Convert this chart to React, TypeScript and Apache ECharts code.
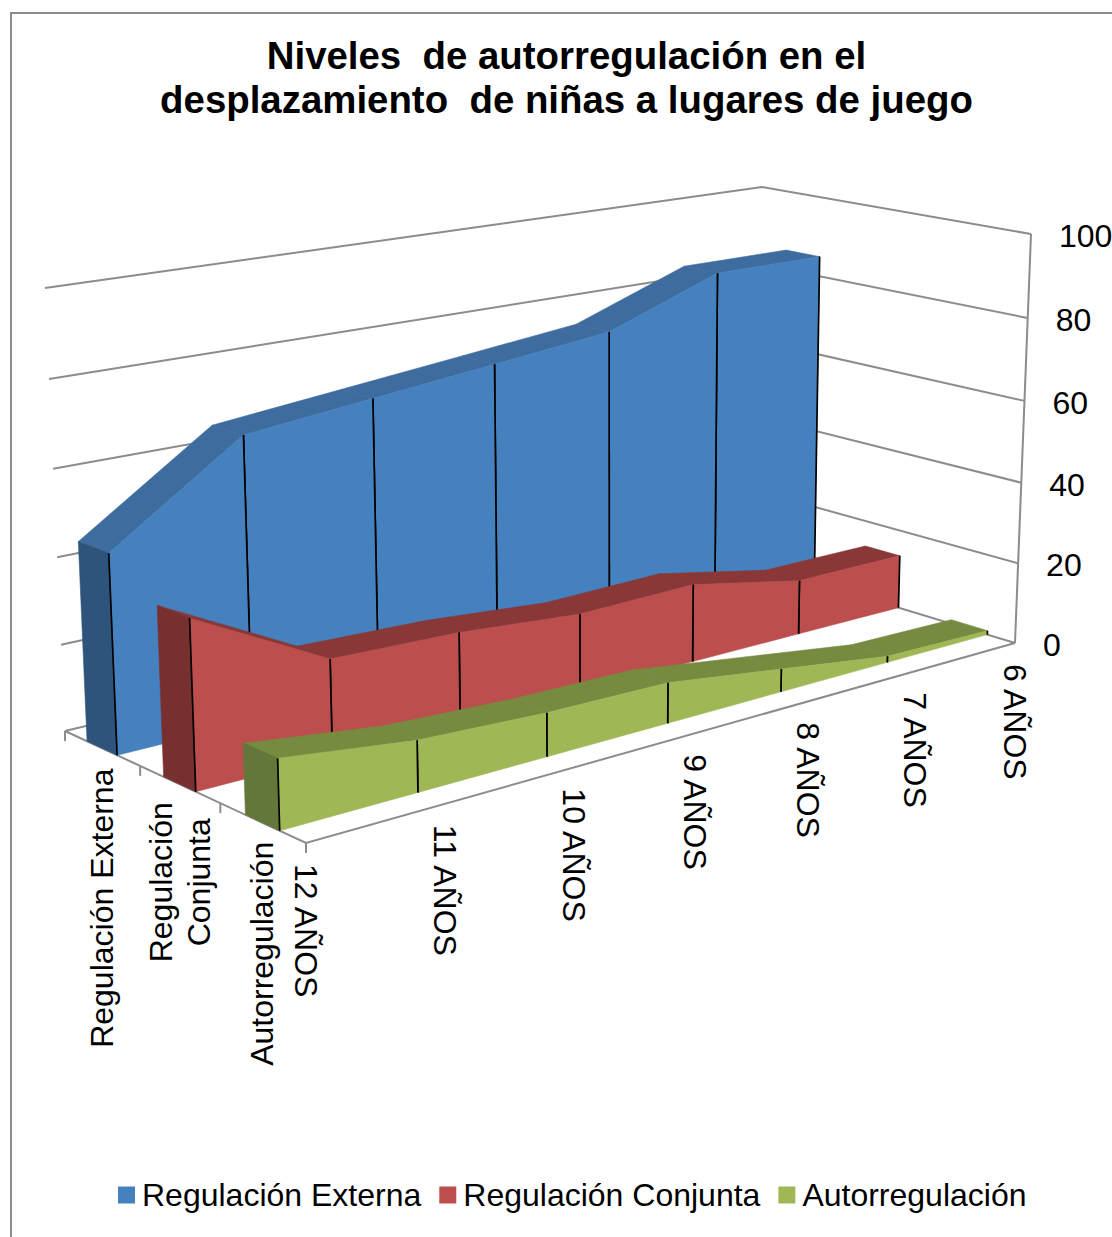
import React, { useEffect, useRef } from "react";
import * as echarts from "echarts";

const WIDTH = 1112;
const HEIGHT = 1237;

const titleLines = ["Niveles  de autorregulación en el", "desplazamiento  de niñas a lugares de juego"];
const ages = ["12 AÑOS", "11 AÑOS", "10 AÑOS", "9 AÑOS", "8 AÑOS", "7 AÑOS", "6 AÑOS"];
const valueTicks = [0, 20, 40, 60, 80, 100];
const depthLabels = ["Autorregulación", "Regulación\nConjunta", "Regulación Externa"];

const externa = [45.5, 66, 69, 72, 75, 85, 85];
const conjunta = [38, 22, 21, 18.5, 19, 13.5, 13.5];
const autorregulacion = [15.5, 11.5, 10, 9.5, 5.5, 1.5, 1];

const blueShades = { front: "#4581BE", top: "#3E6C9E", side: "#2F547B" };
const redShades = { front: "#BC4F4D", top: "#8A3837", side: "#78302F" };
const greenShades = { front: "#9FB755", top: "#768A40", side: "#63773A" };
const GRID = "#8C8C8C";
const FONT = "Liberation Sans";

type Pt = [number, number];

// Maps the unit square onto a quadrilateral given as (0,0), (1,0), (1,1), (0,1).
function squareToQuad(q: Pt[]) {
  const [[x0, y0], [x1, y1], [x2, y2], [x3, y3]] = q;
  const sx = x0 - x1 + x2 - x3;
  const sy = y0 - y1 + y2 - y3;
  const dx1 = x1 - x2;
  const dx2 = x3 - x2;
  const dy1 = y1 - y2;
  const dy2 = y3 - y2;
  const den = dx1 * dy2 - dx2 * dy1;
  const g = (sx * dy2 - dx2 * sy) / den;
  const h = (dx1 * sy - sx * dy1) / den;
  const a = x1 - x0 + g * x1;
  const b = x3 - x0 + h * x3;
  const d = y1 - y0 + g * y1;
  const e = y3 - y0 + h * y3;
  return (u: number, w: number): Pt => {
    const k = g * u + h * w + 1;
    return [(a * u + b * w + x0) / k, (d * u + e * w + y0) / k];
  };
}

// Box corners in the order front, right, back, left.
const floorAt = squareToQuad([[306, 843], [1015, 643], [758, 565], [65, 731]]);
const ceilingAt = squareToQuad([[293.5, 357], [1031, 234], [762, 187], [45, 288]]);

// Heights foreshorten slightly towards the floor of the box.
const HEIGHT_PERSPECTIVE = 0.034;

// u runs along the age axis, w along the depth axis, v is the 0..1 height.
function project(u: number, w: number, v: number): Pt {
  const a = floorAt(u, w);
  const b = ceilingAt(u, w);
  const t = v / (1 + HEIGHT_PERSPECTIVE * (1 - v));
  return [a[0] + (b[0] - a[0]) * t, a[1] + (b[1] - a[1]) * t];
}

// Converts a category/value pair through the hidden cartesian axes into box coordinates.
function toBox(api: any, cat: number, val: number) {
  const c = api.coord([cat, val]);
  return { u: c[0] / WIDTH, v: (HEIGHT - c[1]) / HEIGHT };
}

function signedArea(p: Pt[]) {
  let s = 0;
  for (let i = 0; i < p.length; i++) {
    const q = p[(i + 1) % p.length];
    s += p[i][0] * q[1] - q[0] * p[i][1];
  }
  return s / 2;
}

const polygon = (points: Pt[], fill: string, seam = 0.6) => ({
  type: "polygon",
  shape: { points },
  style: { fill, stroke: fill, lineWidth: seam },
});

const divider = (a: Pt, b: Pt) => ({
  type: "line",
  shape: { x1: a[0], y1: a[1], x2: b[0], y2: b[1] },
  style: { stroke: "#000000", lineWidth: 1.7 },
});

function ribbon(name: string, values: number[], slot: number, shades: typeof blueShades) {
  const last = values.length - 1;
  const wFront = (slot + 0.3) / 3;
  const wBack = (slot + 0.7) / 3;
  return {
    name,
    type: "custom",
    coordinateSystem: "cartesian2d",
    silent: true,
    itemStyle: { color: shades.front },
    // Painted from the far end of the age axis towards the near one.
    data: values.map((_, k) => [last - k, values[last - k]]),
    renderItem: (params: any, api: any) => {
      const i = last - params.dataIndex;
      if (i === last) return { type: "group", children: [] };
      const a = toBox(api, i, values[i]);
      const b = toBox(api, i + 1, values[i + 1]);
      const aTop = project(a.u, wFront, a.v);
      const bTop = project(b.u, wFront, b.v);
      const aBase = project(a.u, wFront, 0);
      const bBase = project(b.u, wFront, 0);
      const aTopBack = project(a.u, wBack, a.v);
      const bTopBack = project(b.u, wBack, b.v);
      const children: any[] = [];
      const topFace: Pt[] = [aTop, bTop, bTopBack, aTopBack];
      if (signedArea(topFace) < 0) children.push(polygon(topFace, shades.top));
      children.push(polygon([aTop, bTop, bBase, aBase], shades.front));
      if (i === 0) {
        children.push(polygon([aTopBack, aTop, aBase, project(a.u, wBack, 0)], shades.side));
      }
      children.push(divider(aTop, aBase), divider(bTop, bBase));
      return { type: "group", children };
    },
  };
}

function wallsSeries() {
  return {
    type: "custom",
    coordinateSystem: "cartesian2d",
    silent: true,
    data: valueTicks.map((t) => [0, t]),
    renderItem: (params: any, api: any) => {
      const t = valueTicks[params.dataIndex];
      const { v } = toBox(api, 0, t);
      const line = (points: Pt[]) => ({
        type: "polyline",
        shape: { points },
        style: { stroke: GRID, lineWidth: 2, fill: "none" },
      });
      const children: any[] = [line([project(0, 1, v), project(1, 1, v), project(1, 0, v)])];
      if (t === 0) {
        children.push(line([project(0, 1, 0), project(0, 0, 0), project(1, 0, 0)]));
        children.push(line([project(1, 0, 0), project(1, 0, 1)]));
        [0, 1, 2, 3].forEach((k) => {
          const p = project(0, k / 3, 0);
          children.push(line([p, [p[0], p[1] + 10]]));
        });
      }
      return { type: "group", children };
    },
  };
}

function labelGraphics() {
  const out: any[] = [];
  // Chart frame, open on the right and at the bottom.
  out.push({
    type: "polyline",
    shape: { points: [[11, HEIGHT], [11, 13], [WIDTH, 13]] },
    style: { stroke: GRID, lineWidth: 2, fill: "none" },
  });
  const base = { fill: "#000000", font: `32px "${FONT}"` };
  valueTicks.forEach((t) => {
    const p = project(1, 0, t / 100);
    out.push({
      type: "text",
      x: p[0] + 28,
      y: p[1] + 2,
      style: { ...base, text: String(t), textAlign: "left", textVerticalAlign: "middle" },
    });
  });
  ages.forEach((age, i) => {
    const p = project(i / (ages.length - 1), 0, 0);
    out.push({
      type: "text",
      x: p[0],
      y: p[1] + 21,
      rotation: -Math.PI / 2,
      style: { ...base, text: age, textAlign: "left", textVerticalAlign: "middle" },
    });
  });
  const depthDrop = [131, 98, 160];
  depthLabels.forEach((name, k) => {
    const p = project(0, (k + 0.5) / 3, 0);
    out.push({
      type: "text",
      x: p[0],
      y: p[1] + depthDrop[k],
      rotation: Math.PI / 2,
      style: { ...base, text: name, textAlign: "center", textVerticalAlign: "middle", lineHeight: 38 },
    });
  });
  return out;
}

export default function App() {
  const ref = useRef<HTMLDivElement>(null);
  useEffect(() => {
    document.body.style.margin = "0";
    const chart = echarts.init(ref.current!, undefined, { renderer: "svg" });
    chart.setOption({
      animation: false,
      backgroundColor: "#FFFFFF",
      title: {
        text: titleLines.join("\n"),
        left: 561.5,
        top: 28,
        textAlign: "center",
        textStyle: { fontFamily: FONT, fontWeight: "bold", fontSize: 38.4, lineHeight: 44, color: "#000000" },
      },
      legend: {
        data: ["Regulación Externa", "Regulación Conjunta", "Autorregulación"],
        left: 113,
        top: 1174,
        icon: "rect",
        itemWidth: 17,
        itemHeight: 17,
        itemGap: 18,
        selectedMode: false,
        textStyle: { fontFamily: FONT, fontSize: 32, color: "#000000", padding: [0, 0, 0, 2] },
      },
      grid: { left: 0, right: 0, top: 0, bottom: 0 },
      xAxis: { type: "category", data: ages, boundaryGap: false, show: false },
      yAxis: { type: "value", min: 0, max: 100, interval: 20, show: false },
      graphic: labelGraphics(),
      series: [
        wallsSeries(),
        ribbon("Regulación Externa", externa, 2, blueShades),
        ribbon("Regulación Conjunta", conjunta, 1, redShades),
        ribbon("Autorregulación", autorregulacion, 0, greenShades),
      ],
    });
    return () => chart.dispose();
  }, []);
  return <div ref={ref} style={{ position: "absolute", left: 0, top: 0, width: WIDTH, height: HEIGHT }} />;
}
